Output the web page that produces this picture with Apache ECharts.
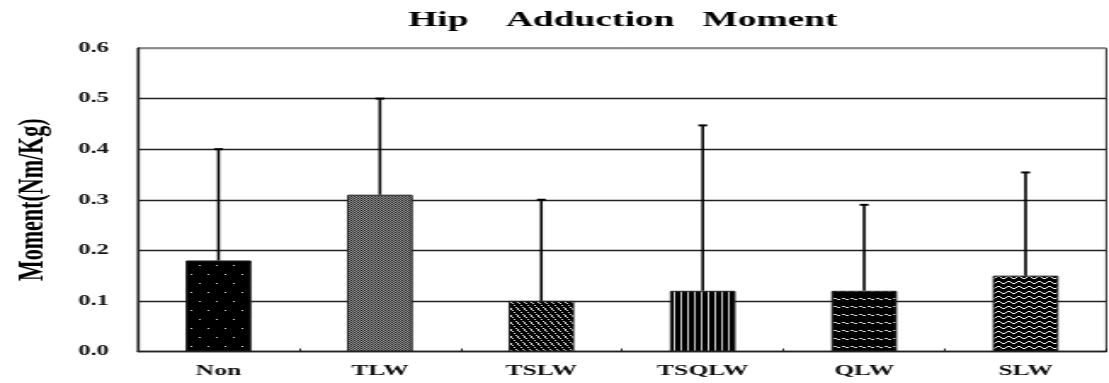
<!DOCTYPE html>
<html>
<head>
<meta charset="utf-8">
<script src="https://cdn.jsdelivr.net/npm/echarts@6/dist/echarts.min.js"></script>
<style>
  html, body { margin: 0; padding: 0; background: #fff; overflow: hidden; }
  /* The chart is laid out narrow and widened horizontally, giving the wide serif lettering */
  #chart { width: 652px; height: 383px; transform: scaleX(1.70092); transform-origin: 0 0; }
</style>
</head>
<body>
<div id="chart"></div>
<script>
// Hip adduction moment per walking condition: mean and upper error limit
const categories = ['Non', 'TLW', 'TSLW', 'TSQLW', 'QLW', 'SLW'];
const meanValues = [0.18, 0.31, 0.10, 0.12, 0.12, 0.15];
const upperValues = [0.40, 0.50, 0.30, 0.447, 0.29, 0.354];
const yTicks = [0, 0.1, 0.2, 0.3, 0.4, 0.5, 0.6];

// Small pixel tiles used as bar fills
function tile(w, h, bg, paint) {
  const c = document.createElement('canvas');
  c.width = w; c.height = h;
  const g = c.getContext('2d');
  g.fillStyle = bg; g.fillRect(0, 0, w, h);
  paint(g, w, h);
  return { image: c, repeat: 'repeat' };
}
function px(g, x, y, col) { g.fillStyle = col; g.fillRect(x, y, 1, 1); }

const fills = [
  // scattered dots on black
  tile(10, 18, '#000', g => { px(g, 2, 4, '#d8d8d8'); px(g, 7, 13, '#d8d8d8'); }),
  // fine grey weave
  tile(2, 2, '#9a9a9a', g => { px(g, 0, 0, '#1a1a1a'); px(g, 1, 1, '#3a3a3a'); }),
  // diagonal stripes
  tile(4, 7, '#000', (g, w, h) => {
    for (let x = 0; x < w; x++) for (let y = 0; y < h; y++) {
      const d = ((y - 1.75 * x) % 7 + 7) % 7;
      if (d < 1.2) px(g, x, y, '#e0e0e0');
    }
  }),
  // vertical stripes
  tile(4, 1, '#000', g => { px(g, 0, 0, '#c8c8c8'); }),
  // short slanted dashes
  tile(5, 8, '#000', g => { px(g, 0, 2, '#d0d0d0'); px(g, 1, 2, '#d0d0d0'); px(g, 2, 3, '#d0d0d0'); px(g, 3, 3, '#d0d0d0'); }),
  // wavy lines
  tile(6, 5, '#000', (g, w) => {
    for (let x = 0; x < w; x++) {
      const y = Math.round(2 + Math.sin(2 * Math.PI * x / w) * 1);
      px(g, x, y, '#f0f0f0');
    }
  })
];

const FONT = "'Liberation Serif', 'Times New Roman', serif";
const chart = echarts.init(document.getElementById('chart'), null, { renderer: 'canvas', devicePixelRatio: 1 });

chart.setOption({
  animation: false,
  backgroundColor: '#fff',
  title: {
    text: 'Hip    Adduction   Moment',
    left: 240, top: 9, padding: 0,
    textStyle: { fontFamily: FONT, fontSize: 22, fontWeight: 'bold', color: '#000' }
  },
  grid: {
    left: 78.2, right: 1.6, top: 48, bottom: 31.5,
    show: true, borderColor: '#333', borderWidth: 1, backgroundColor: 'transparent'
  },
  xAxis: {
    type: 'category',
    data: categories,
    axisLine: { lineStyle: { color: '#222', width: 1.3 } },
    axisTick: { show: true, inside: true, length: 3, lineStyle: { color: '#222' } },
    axisLabel: { margin: 12, fontFamily: FONT, fontSize: 15, fontWeight: 'bold', color: '#111' },
    splitLine: { show: false }
  },
  yAxis: {
    type: 'value',
    min: yTicks[0], max: yTicks[yTicks.length - 1], interval: 0.1,
    name: 'Moment(Nm/Kg)',
    nameLocation: 'middle',
    nameGap: 51,
    nameRotate: 90,
    nameTextStyle: { fontFamily: FONT, fontSize: 22, fontWeight: 'bold', color: '#000' },
    axisLine: { show: true, lineStyle: { color: '#222', width: 1.3 } },
    axisTick: { show: false },
    axisLabel: {
      margin: 17, fontFamily: FONT, fontSize: 14.5, fontWeight: 'bold', color: '#111',
      formatter: v => v.toFixed(1)
    },
    splitLine: { show: true, lineStyle: { color: ['#222', '#222', '#222', '#222', '#222', '#222', '#888'], width: 1.3 } }
  },
  series: [
    {
      type: 'bar',
      barWidth: '40.7%',
      data: meanValues.map((v, i) => ({
        value: v,
        itemStyle: { color: fills[i], borderColor: '#222', borderWidth: 1 }
      })),
      z: 2
    },
    {
      type: 'custom',
      z: 3,
      data: categories.map((c, i) => [i, meanValues[i], upperValues[i]]),
      renderItem: (params, api) => {
        const base = api.coord([api.value(0), api.value(1)]);
        const top = api.coord([api.value(0), api.value(2)]);
        const half = 2.6;
        return {
          type: 'group',
          children: [
            { type: 'line', shape: { x1: top[0], y1: base[1], x2: top[0], y2: top[1] },
              style: { stroke: '#000', lineWidth: 1.6 } },
            { type: 'line', shape: { x1: top[0] - half, y1: top[1], x2: top[0] + half, y2: top[1] },
              style: { stroke: '#000', lineWidth: 2 } }
          ]
        };
      }
    }
  ]
});
</script>
</body>
</html>
